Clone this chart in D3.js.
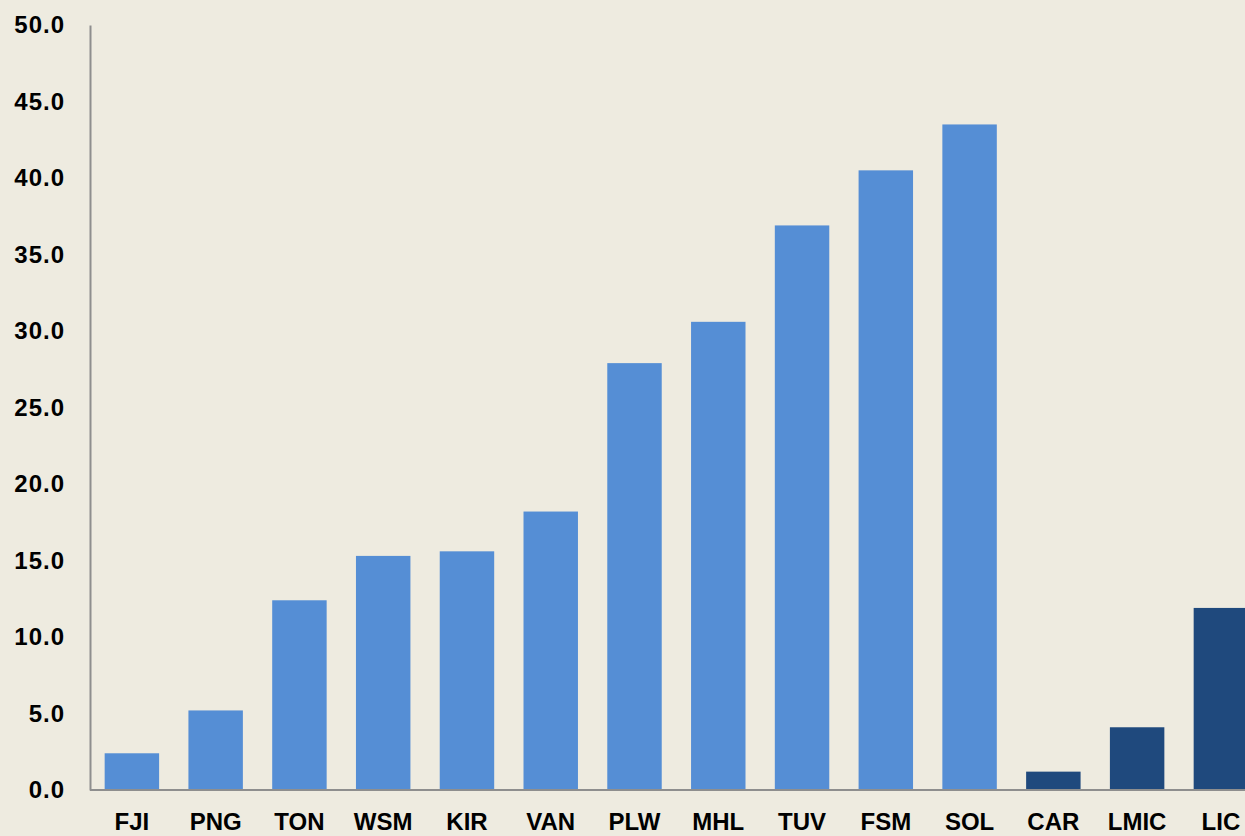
<!DOCTYPE html>
<html><head><meta charset="utf-8">
<script src="https://cdn.jsdelivr.net/npm/d3@7"></script>
<style>
html,body{margin:0;padding:0;background:#eeebe0;overflow:hidden;}
svg{display:block;}
</style></head>
<body>
<svg id="chart" width="1245" height="836"></svg>
<script>
const categories = ["FJI","PNG","TON","WSM","KIR","VAN","PLW","MHL","TUV","FSM","SOL","CAR","LMIC","LIC"];
const values = [2.4, 5.2, 12.4, 15.3, 15.6, 18.2, 27.9, 30.6, 36.9, 40.5, 43.5, 1.2, 4.1, 11.9];
const groups = ["Pacific","Pacific","Pacific","Pacific","Pacific","Pacific","Pacific","Pacific","Pacific","Pacific","Pacific","Comparator","Comparator","Comparator"];
const yTicks = [0,5,10,15,20,25,30,35,40,45,50];

const svg = d3.select("#chart");
const x0 = 90, yTop = 25, yBot = 790;
const step = 83.77;
const x = d3.scaleBand().domain(categories).range([x0, x0 + step*categories.length]).paddingInner(0.35).paddingOuter(0.175);
const y = d3.scaleLinear().domain([0,50]).range([yBot, yTop]);
const color = d3.scaleOrdinal().domain(["Pacific","Comparator"]).range(["#558ed5","#1f497d"]);

const data = categories.map((c,i)=>({c, v: values[i], g: groups[i]}));

svg.append("g").selectAll("rect").data(data).join("rect")
  .attr("x", d=>x(d.c)).attr("width", x.bandwidth())
  .attr("y", d=>y(d.v)).attr("height", d=>y(0)-y(d.v))
  .attr("fill", d=>color(d.g));

const font = "'Liberation Sans', Arial, sans-serif";

// Y axis
const yAxis = svg.append("g").attr("transform",`translate(${x0},0)`)
  .call(d3.axisLeft(y).tickValues(yTicks).tickSize(0).tickPadding(25).tickFormat(d3.format(".1f")));
yAxis.select(".domain").attr("stroke","#8e8e8e").attr("stroke-width",2);
yAxis.selectAll("text").attr("font-family",font).attr("font-weight","bold").attr("font-size","24px")
  .attr("letter-spacing","1px").attr("fill","#000");

// X axis
const xAxis = svg.append("g").attr("transform",`translate(0,${yBot})`)
  .call(d3.axisBottom(x).tickSize(0).tickPadding(23));
xAxis.select(".domain").attr("d", `M${x0},0H1245`).attr("stroke","#8e8e8e").attr("stroke-width",2);
xAxis.selectAll("text").attr("font-family",font).attr("font-weight","bold").attr("font-size","24px").attr("fill","#000");
</script>
</body></html>
